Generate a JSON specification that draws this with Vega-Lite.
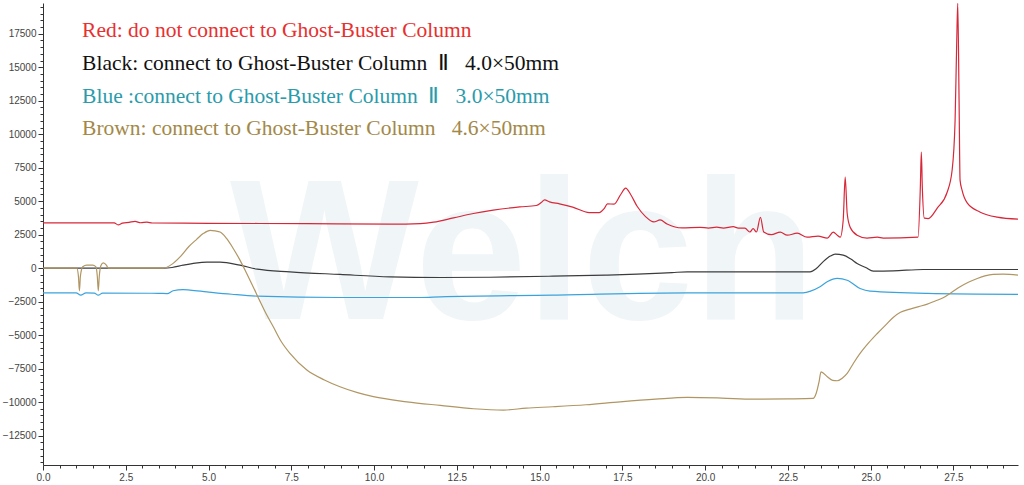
{
  "$schema": "https://vega.github.io/schema/vega-lite/v6.json",
  "width": 975,
  "height": 462,
  "autosize": {"type": "none"},
  "padding": {"left": 43, "top": 3, "right": 6, "bottom": 20},
  "background": "white",
  "view": {"stroke": null},
  "config": {
    "axis": {"grid": false, "domainColor": "#333333", "tickColor": "#333333", "labelColor": "#444444", "labelFont": "Liberation Sans", "labelFontSize": 10, "title": null, "labelOverlap": false}
  },
  "datasets": {
    "wm": [{"t": 5.65, "v": -3800, "text": "Welch"}],
    "labels": [
      {"series": "Red", "t": 1.18, "v": 17700, "text": "Red: do not connect to Ghost-Buster Column"},
      {"series": "Black", "t": 1.18, "v": 15220, "text": "Black: connect to Ghost-Buster Column\u00a0 Ⅱ \u00a0\u00a04.0×50mm"},
      {"series": "Blue", "t": 1.18, "v": 12760, "text": "Blue\u00a0:connect to Ghost-Buster Column\u00a0 Ⅱ \u00a0\u00a03.0×50mm"},
      {"series": "Brown", "t": 1.18, "v": 10370, "text": "Brown: connect to Ghost-Buster Column\u00a0\u00a0 4.6×50mm"}
    ],
    "lines": [
      {"series":"Red","t":0,"v":3380},{"series":"Red","t":2.15,"v":3380},{"series":"Red","t":2.27,"v":3230},{"series":"Red","t":2.4,"v":3360},{"series":"Red","t":2.6,"v":3420},{"series":"Red","t":2.78,"v":3490},{"series":"Red","t":2.95,"v":3390},{"series":"Red","t":3.14,"v":3440},{"series":"Red","t":3.3,"v":3370},{"series":"Red","t":5.0,"v":3350},{"series":"Red","t":8.0,"v":3320},{"series":"Red","t":10.5,"v":3290},{"series":"Red","t":11.4,"v":3330},{"series":"Red","t":11.8,"v":3430},{"series":"Red","t":12.4,"v":3750},{"series":"Red","t":13.0,"v":4080},{"series":"Red","t":13.6,"v":4330},{"series":"Red","t":14.4,"v":4570},{"series":"Red","t":14.9,"v":4680},{"series":"Red","t":15.05,"v":4900},{"series":"Red","t":15.15,"v":5100},{"series":"Red","t":15.3,"v":4950},{"series":"Red","t":15.6,"v":4800},{"series":"Red","t":16.0,"v":4560},{"series":"Red","t":16.5,"v":4150},{"series":"Red","t":16.8,"v":4150},{"series":"Red","t":16.95,"v":4450},{"series":"Red","t":17.05,"v":4800},{"series":"Red","t":17.25,"v":4780},{"series":"Red","t":17.45,"v":5500},{"series":"Red","t":17.6,"v":5980},{"series":"Red","t":17.75,"v":5500},{"series":"Red","t":17.95,"v":4600},{"series":"Red","t":18.2,"v":3850},{"series":"Red","t":18.45,"v":3450},{"series":"Red","t":18.64,"v":3600},{"series":"Red","t":18.85,"v":3300},{"series":"Red","t":19.3,"v":3000},{"series":"Red","t":19.85,"v":3050},{"series":"Red","t":20.1,"v":2990},{"series":"Red","t":20.35,"v":3060},{"series":"Red","t":20.55,"v":2990},{"series":"Red","t":20.85,"v":3100},{"series":"Red","t":21.0,"v":2990},{"series":"Red","t":21.2,"v":2990},{"series":"Red","t":21.35,"v":2700},{"series":"Red","t":21.45,"v":2950},{"series":"Red","t":21.55,"v":2700},{"series":"Red","t":21.67,"v":3800},{"series":"Red","t":21.77,"v":2700},{"series":"Red","t":22.0,"v":2500},{"series":"Red","t":22.27,"v":2690},{"series":"Red","t":22.48,"v":2460},{"series":"Red","t":22.78,"v":2610},{"series":"Red","t":23.08,"v":2310},{"series":"Red","t":23.41,"v":2390},{"series":"Red","t":23.69,"v":2240},{"series":"Red","t":23.87,"v":2690},{"series":"Red","t":23.99,"v":2460},{"series":"Red","t":24.08,"v":2310},{"series":"Red","t":24.17,"v":3580},{"series":"Red","t":24.23,"v":6790},{"series":"Red","t":24.29,"v":4100},{"series":"Red","t":24.38,"v":3060},{"series":"Red","t":24.59,"v":2460},{"series":"Red","t":24.89,"v":2240},{"series":"Red","t":25.2,"v":2310},{"series":"Red","t":25.38,"v":2240},{"series":"Red","t":26.43,"v":2310},{"series":"Red","t":26.5,"v":6040},{"series":"Red","t":26.53,"v":8660},{"series":"Red","t":26.56,"v":6040},{"series":"Red","t":26.62,"v":3730},{"series":"Red","t":26.74,"v":3700},{"series":"Red","t":27.01,"v":4480},{"series":"Red","t":27.31,"v":5670},{"series":"Red","t":27.46,"v":7310},{"series":"Red","t":27.55,"v":11040},{"series":"Red","t":27.6,"v":17010},{"series":"Red","t":27.63,"v":19780},{"series":"Red","t":27.67,"v":12540},{"series":"Red","t":27.7,"v":6570},{"series":"Red","t":27.76,"v":5820},{"series":"Red","t":27.92,"v":4850},{"series":"Red","t":28.31,"v":4180},{"series":"Red","t":28.82,"v":3810},{"series":"Red","t":29.45,"v":3660},

      {"series":"Black","t":0,"v":0},{"series":"Black","t":3.63,"v":0},{"series":"Black","t":3.9,"v":50},{"series":"Black","t":4.23,"v":220},{"series":"Black","t":4.6,"v":380},{"series":"Black","t":4.95,"v":450},{"series":"Black","t":5.35,"v":450},{"series":"Black","t":5.95,"v":220},{"series":"Black","t":6.47,"v":-75},{"series":"Black","t":7.46,"v":-275},{"series":"Black","t":8.97,"v":-470},{"series":"Black","t":10.48,"v":-650},{"series":"Black","t":12.0,"v":-700},{"series":"Black","t":13.5,"v":-680},{"series":"Black","t":15.4,"v":-600},{"series":"Black","t":17.0,"v":-520},{"series":"Black","t":17.95,"v":-450},{"series":"Black","t":19.0,"v":-330},{"series":"Black","t":19.46,"v":-275},{"series":"Black","t":21.0,"v":-280},{"series":"Black","t":23.17,"v":-275},{"series":"Black","t":23.35,"v":-50},{"series":"Black","t":23.56,"v":470},{"series":"Black","t":23.78,"v":900},{"series":"Black","t":23.93,"v":1040},{"series":"Black","t":24.17,"v":970},{"series":"Black","t":24.4,"v":680},{"series":"Black","t":24.59,"v":350},{"series":"Black","t":24.85,"v":50},{"series":"Black","t":25.08,"v":-220},{"series":"Black","t":25.68,"v":-200},{"series":"Black","t":26.59,"v":-100},{"series":"Black","t":29.45,"v":-100},

      {"series":"Blue","t":0,"v":-1850},{"series":"Blue","t":1.0,"v":-1850},{"series":"Blue","t":1.14,"v":-2020},{"series":"Blue","t":1.3,"v":-1850},{"series":"Blue","t":1.55,"v":-1860},{"series":"Blue","t":1.67,"v":-2020},{"series":"Blue","t":1.8,"v":-1860},{"series":"Blue","t":3.5,"v":-1880},{"series":"Blue","t":3.75,"v":-1900},{"series":"Blue","t":3.93,"v":-1690},{"series":"Blue","t":4.23,"v":-1600},{"series":"Blue","t":4.44,"v":-1640},{"series":"Blue","t":4.95,"v":-1770},{"series":"Blue","t":5.7,"v":-1950},{"series":"Blue","t":6.47,"v":-2090},{"series":"Blue","t":8.97,"v":-2190},{"series":"Blue","t":11.39,"v":-2190},{"series":"Blue","t":12.0,"v":-2140},{"series":"Blue","t":15.4,"v":-2010},{"series":"Blue","t":19.46,"v":-1840},{"series":"Blue","t":22.96,"v":-1840},{"series":"Blue","t":23.2,"v":-1700},{"series":"Blue","t":23.47,"v":-1390},{"series":"Blue","t":23.7,"v":-1000},{"series":"Blue","t":23.99,"v":-770},{"series":"Blue","t":24.29,"v":-900},{"series":"Blue","t":24.68,"v":-1520},{"series":"Blue","t":24.98,"v":-1720},{"series":"Blue","t":26.71,"v":-1890},{"series":"Blue","t":29.45,"v":-1960},

      {"series":"Brown","t":0,"v":0},{"series":"Brown","t":1.02,"v":0},{"series":"Brown","t":1.07,"v":-600},{"series":"Brown","t":1.1,"v":-1690},{"series":"Brown","t":1.13,"v":-600},{"series":"Brown","t":1.2,"v":100},{"series":"Brown","t":1.32,"v":220},{"series":"Brown","t":1.5,"v":220},{"series":"Brown","t":1.6,"v":100},{"series":"Brown","t":1.64,"v":-600},{"series":"Brown","t":1.67,"v":-1690},{"series":"Brown","t":1.7,"v":-600},{"series":"Brown","t":1.75,"v":200},{"series":"Brown","t":1.82,"v":400},{"series":"Brown","t":1.92,"v":200},{"series":"Brown","t":1.97,"v":0},{"series":"Brown","t":3.63,"v":0},{"series":"Brown","t":3.9,"v":300},{"series":"Brown","t":4.14,"v":840},{"series":"Brown","t":4.4,"v":1600},{"series":"Brown","t":4.64,"v":2150},{"series":"Brown","t":4.85,"v":2600},{"series":"Brown","t":5.05,"v":2820},{"series":"Brown","t":5.2,"v":2780},{"series":"Brown","t":5.35,"v":2700},{"series":"Brown","t":5.55,"v":2200},{"series":"Brown","t":5.75,"v":1450},{"series":"Brown","t":5.95,"v":600},{"series":"Brown","t":6.15,"v":-380},{"series":"Brown","t":6.35,"v":-1400},{"series":"Brown","t":6.56,"v":-2500},{"series":"Brown","t":6.76,"v":-3500},{"series":"Brown","t":6.96,"v":-4400},{"series":"Brown","t":7.2,"v":-5500},{"series":"Brown","t":7.46,"v":-6370},{"series":"Brown","t":7.97,"v":-7610},{"series":"Brown","t":8.5,"v":-8350},{"series":"Brown","t":8.97,"v":-8860},{"series":"Brown","t":9.5,"v":-9300},{"series":"Brown","t":9.98,"v":-9600},{"series":"Brown","t":10.99,"v":-9980},{"series":"Brown","t":12.0,"v":-10250},{"series":"Brown","t":13.0,"v":-10500},{"series":"Brown","t":13.91,"v":-10600},{"series":"Brown","t":14.6,"v":-10450},{"series":"Brown","t":15.4,"v":-10350},{"series":"Brown","t":16.4,"v":-10200},{"series":"Brown","t":17.43,"v":-9980},{"series":"Brown","t":18.5,"v":-9780},{"series":"Brown","t":19.46,"v":-9650},{"series":"Brown","t":20.5,"v":-9700},{"series":"Brown","t":21.45,"v":-9780},{"series":"Brown","t":22.5,"v":-9760},{"series":"Brown","t":23.26,"v":-9730},{"series":"Brown","t":23.36,"v":-9300},{"series":"Brown","t":23.44,"v":-8500},{"series":"Brown","t":23.5,"v":-7740},{"series":"Brown","t":23.69,"v":-8110},{"series":"Brown","t":23.85,"v":-8380},{"series":"Brown","t":23.99,"v":-8410},{"series":"Brown","t":24.15,"v":-8200},{"series":"Brown","t":24.29,"v":-7860},{"series":"Brown","t":24.48,"v":-7100},{"series":"Brown","t":24.68,"v":-6370},{"series":"Brown","t":24.95,"v":-5550},{"series":"Brown","t":25.2,"v":-4880},{"series":"Brown","t":25.45,"v":-4250},{"series":"Brown","t":25.68,"v":-3680},{"series":"Brown","t":25.9,"v":-3300},{"series":"Brown","t":26.19,"v":-3060},{"series":"Brown","t":26.45,"v":-2870},{"series":"Brown","t":26.71,"v":-2690},{"series":"Brown","t":26.95,"v":-2450},{"series":"Brown","t":27.19,"v":-2210},{"series":"Brown","t":27.45,"v":-1800},{"series":"Brown","t":27.7,"v":-1390},{"series":"Brown","t":27.95,"v":-1050},{"series":"Brown","t":28.22,"v":-770},{"series":"Brown","t":28.45,"v":-580},{"series":"Brown","t":28.7,"v":-470},{"series":"Brown","t":29.0,"v":-450},{"series":"Brown","t":29.45,"v":-520}
    ]
  },
  "layer": [
    {
      "data": {"name": "wm"},
      "mark": {"type": "text", "align": "left", "baseline": "alphabetic", "font": "Liberation Sans", "fontWeight": "bold", "fontSize": 200, "fill": "#dfe9f1", "opacity": 0.45},
      "encoding": {
        "x": {"field": "t", "type": "quantitative", "scale": {"domain": [0, 29.45], "nice": false, "zero": false}},
        "y": {"field": "v", "type": "quantitative", "scale": {"domain": [-14700, 19800], "nice": false, "zero": false}},
        "text": {"field": "text"}
      }
    },
    {
      "data": {"name": "lines"},
      "mark": {"type": "line", "interpolate": "monotone", "strokeWidth": 1.2, "clip": true},
      "encoding": {
        "x": {"field": "t", "type": "quantitative", "scale": {"domain": [0, 29.45], "nice": false, "zero": false},
          "axis": {"values": [0,0.5,1,1.5,2,2.5,3,3.5,4,4.5,5,5.5,6,6.5,7,7.5,8,8.5,9,9.5,10,10.5,11,11.5,12,12.5,13,13.5,14,14.5,15,15.5,16,16.5,17,17.5,18,18.5,19,19.5,20,20.5,21,21.5,22,22.5,23,23.5,24,24.5,25,25.5,26,26.5,27,27.5,28,28.5,29],
            "tickCount": 500,
            "labelExpr": "datum.value % 2.5 === 0 ? format(datum.value, '.1f') : ''",
            "labelOverlap": false,
            "labelFlush": false,
            "tickSize": {"condition": {"test": "datum.value % 2.5 === 0", "value": 5}, "value": 3},
            "labelPadding": 2}},
        "y": {"field": "v", "type": "quantitative", "scale": {"domain": [-14700, 19800], "nice": false, "zero": false},
          "axis": {"values": [-14500,-14000,-13500,-13000,-12500,-12000,-11500,-11000,-10500,-10000,-9500,-9000,-8500,-8000,-7500,-7000,-6500,-6000,-5500,-5000,-4500,-4000,-3500,-3000,-2500,-2000,-1500,-1000,-500,0,500,1000,1500,2000,2500,3000,3500,4000,4500,5000,5500,6000,6500,7000,7500,8000,8500,9000,9500,10000,10500,11000,11500,12000,12500,13000,13500,14000,14500,15000,15500,16000,16500,17000,17500,18000,18500,19000,19500],
            "tickCount": 500,
            "labelExpr": "datum.value % 2500 === 0 ? format(datum.value, 'd') : ''",
            "labelOverlap": false,
            "labelFlush": false,
            "tickSize": {"condition": {"test": "datum.value % 2500 === 0", "value": 5}, "value": 3},
            "labelPadding": 2}},
        "stroke": {"field": "series", "type": "nominal", "legend": null,
          "scale": {"domain": ["Red", "Black", "Blue", "Brown"], "range": ["#d7283a", "#3c3c3c", "#3ba3dc", "#b09663"]}}
      }
    },
    {
      "data": {"name": "labels"},
      "mark": {"type": "text", "align": "left", "baseline": "middle", "font": "Liberation Serif", "fontSize": 21.5},
      "encoding": {
        "x": {"field": "t", "type": "quantitative"},
        "y": {"field": "v", "type": "quantitative"},
        "text": {"field": "text"},
        "fill": {"field": "series", "type": "nominal", "legend": null,
          "scale": {"domain": ["Red", "Black", "Blue", "Brown"], "range": ["#e8302f", "#111111", "#2a9bab", "#a38848"]}}
      }
    }
  ]
}
